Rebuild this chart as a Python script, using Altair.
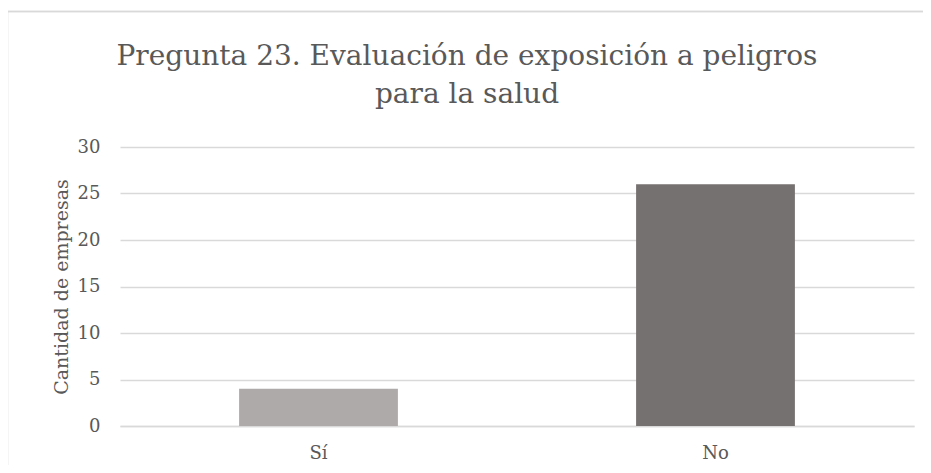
import altair as alt
import pandas as pd

categories = ["Sí", "No"]
values = [4, 26]
colors = ["#AEAAAA", "#767171"]
title_lines = ["Pregunta 23. Evaluación de exposición a peligros", "para la salud"]

df = pd.DataFrame({"cat": categories, "val": values})

W, H = 794, 279
FONT = "DejaVu Serif"
TXT = "#595959"

bars = alt.Chart(df).mark_bar().encode(
    x=alt.X("cat:N", sort=categories, title=None,
            scale=alt.Scale(paddingInner=0.6, paddingOuter=0.3),
            axis=alt.Axis(labelAngle=0, labelFontSize=18, labelColor=TXT, labelFont=FONT,
                          ticks=False, domainColor="#D9D9D9", domainWidth=1.3, labelPadding=18)),
    y=alt.Y("val:Q", title="Cantidad de empresas",
            scale=alt.Scale(domain=[0, 30]),
            axis=alt.Axis(values=[0, 5, 10, 15, 20, 25, 30], labelFontSize=18, labelColor=TXT,
                          labelFont=FONT, ticks=False, domain=False, gridColor="#D9D9D9",
                          gridWidth=1.3, labelPadding=20, titleFontSize=19, titleFont=FONT,
                          titleColor=TXT, titleFontWeight="normal", titlePadding=6)),
    color=alt.Color("cat:N", sort=categories,
                    scale=alt.Scale(domain=categories, range=colors), legend=None),
)

border = alt.Chart(df).mark_rect(fill=None, stroke="#D9D9D9", strokeWidth=1.3, clip=False).encode(
    x=alt.value(-112.5), x2=alt.value(W + 30), y=alt.value(-135.5), y2=alt.value(H + 80)
)

tdf = pd.DataFrame({"t": title_lines, "i": [0, 1]})
title = alt.Chart(tdf).mark_text(font=FONT, fontSize=28, color=TXT, align="center",
                                 baseline="alphabetic", clip=False).encode(
    text="t:N",
    x=alt.value(W / 2 - 50),
    y=alt.Y("i:Q", axis=None, scale=alt.Scale(domain=[0, 1], range=[-82, -44])),
)

chart = alt.layer(border, bars, title).properties(
    width=W, height=H,
    padding={"left": 112, "top": 139, "right": 9, "bottom": 39},
    autosize=alt.AutoSizeParams(type="none"),
).resolve_scale(y="independent").configure(background="white").configure_view(stroke=None)

chart.save("out.html", embed_options={"renderer": "svg", "actions": False})
